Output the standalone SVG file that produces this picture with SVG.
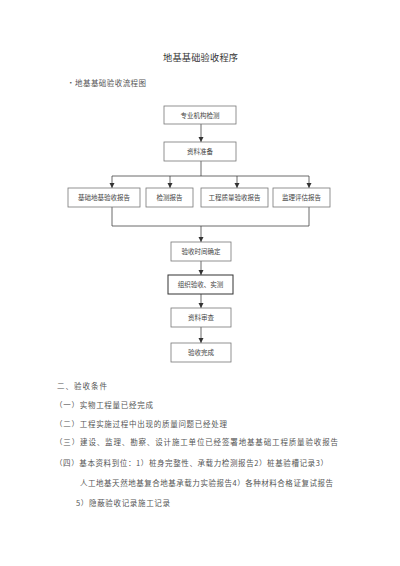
<svg xmlns="http://www.w3.org/2000/svg" width="400" height="566" viewBox="0 0 400 566">
<defs>
<marker id="ah" markerWidth="6" markerHeight="6" refX="5" refY="3" orient="auto" markerUnits="userSpaceOnUse">
<path d="M0,0.5 L5,3 L0,5.5 Z" fill="#333"/>
</marker>
<style>
.box{fill:#fff;stroke:#777;stroke-width:0.8}
.boxb{fill:#fff;stroke:#333;stroke-width:1}
.bt{font-family:"Noto Sans CJK SC","Noto Sans",sans-serif;font-size:6.5px;fill:#444;text-anchor:middle}
.ln{fill:none;stroke:#444;stroke-width:0.8}
.ar{fill:none;stroke:#444;stroke-width:0.8;marker-end:url(#ah)}
.tx{font-family:"Noto Sans CJK SC","Noto Sans",sans-serif;font-size:7.5px;fill:#555}
.ti{font-family:"Noto Sans CJK SC","Noto Sans",sans-serif;font-size:9.2px;fill:#333}
</style>
</defs>
<rect width="400" height="566" fill="#fff"/>
<text class="ti" x="163" y="61" textLength="75" lengthAdjust="spacing">地基基础验收程序</text>
<text class="tx" x="67" y="86">·</text>
<text class="tx" x="75" y="86" textLength="71" lengthAdjust="spacing">地基基础验收流程图</text>

<g id="connectors">
<line class="ar" x1="201" y1="124" x2="201" y2="142"/>
<line class="ln" x1="201" y1="161" x2="201" y2="176"/>
<line class="ln" x1="112" y1="176" x2="309" y2="176"/>
<line class="ar" x1="112" y1="176" x2="112" y2="188"/>
<line class="ar" x1="170" y1="176" x2="170" y2="188"/>
<line class="ar" x1="237" y1="176" x2="237" y2="188"/>
<line class="ar" x1="309" y1="176" x2="309" y2="188"/>
<line class="ln" x1="112" y1="207" x2="112" y2="226"/>
<line class="ln" x1="309" y1="207" x2="309" y2="226"/>
<line class="ln" x1="112" y1="226" x2="309" y2="226"/>
<line class="ar" x1="201" y1="226" x2="201" y2="242"/>
<line class="ar" x1="201" y1="261" x2="201" y2="275"/>
<line class="ar" x1="201" y1="294" x2="201" y2="308"/>
<line class="ar" x1="201" y1="327" x2="201" y2="343"/>
</g>

<g id="n1"><rect class="box" x="164" y="106" width="72" height="18"/><text class="bt" x="200" y="117.5">专业机构检测</text></g>
<g id="n2"><rect class="box" x="164" y="142" width="72" height="19"/><text class="bt" x="200" y="154">资料准备</text></g>
<g id="n3"><rect class="box" x="68" y="188" width="72" height="19"/><text class="bt" x="104" y="200">基础地基验收报告</text></g>
<g id="n4"><rect class="box" x="146" y="188" width="47" height="19"/><text class="bt" x="169.5" y="200">检测报告</text></g>
<g id="n5"><rect class="box" x="201" y="188" width="67" height="19"/><text class="bt" x="234.5" y="200">工程质量验收报告</text></g>
<g id="n6"><rect class="box" x="273" y="188" width="57" height="19"/><text class="bt" x="301.5" y="200">监理评估报告</text></g>
<g id="n7"><rect class="box" x="171" y="242" width="60" height="19"/><text class="bt" x="201" y="254">验收时间确定</text></g>
<g id="n8"><rect class="boxb" x="168" y="275" width="65" height="19"/><text class="bt" x="200.5" y="287">组织验收、实测</text></g>
<g id="n9"><rect class="box" x="171" y="308" width="60" height="19"/><text class="bt" x="201" y="320">资料审查</text></g>
<g id="n10"><rect class="box" x="171" y="343" width="60" height="19"/><text class="bt" x="201" y="355">验收完成</text></g>

<text class="tx" x="57" y="389" textLength="50" lengthAdjust="spacing">二、验收条件</text>
<text class="tx" x="55" y="408" textLength="98" lengthAdjust="spacing">（一）实物工程量已经完成</text>
<text class="tx" x="55" y="427" textLength="172" lengthAdjust="spacing">（二）工程实施过程中出现的质量问题已经处理</text>
<text class="tx" x="55" y="445" textLength="283" lengthAdjust="spacing">（三）建设、监理、勘察、设计施工单位已经签署地基基础工程质量验收报告</text>
<text class="tx" x="55" y="466" textLength="273" lengthAdjust="spacing">（四）基本资料到位：1）桩身完整性、承载力检测报告2）桩基验槽记录3）</text>
<text class="tx" x="80" y="486" textLength="253" lengthAdjust="spacing">人工地基天然地基复合地基承载力实验报告4）各种材料合格证复试报告</text>
<text class="tx" x="76" y="506" textLength="94" lengthAdjust="spacing">5）隐蔽验收记录施工记录</text>
</svg>
